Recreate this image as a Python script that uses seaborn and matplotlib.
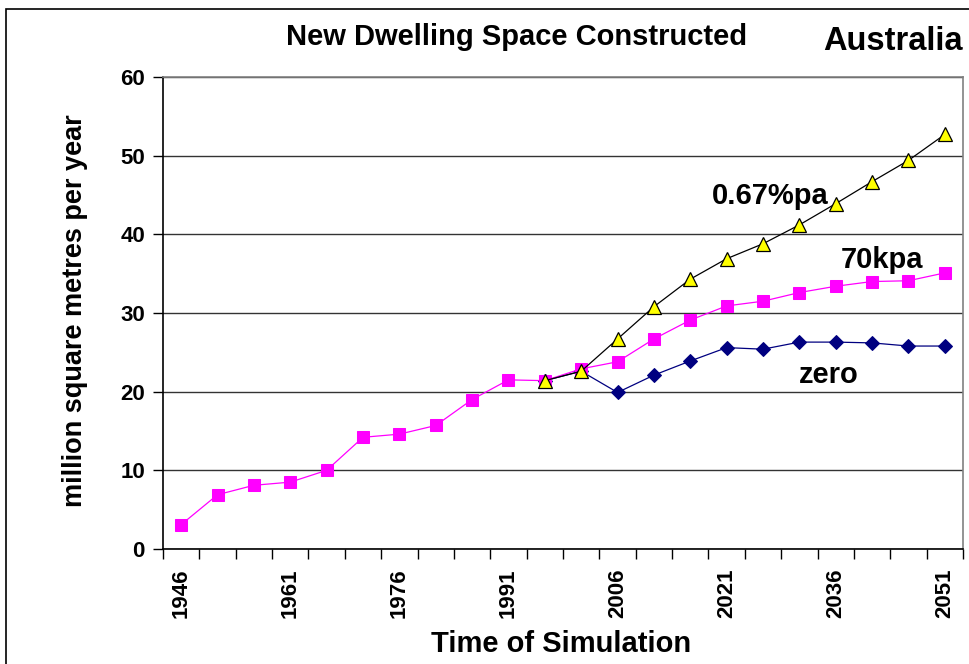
import matplotlib
matplotlib.use("Agg")
import matplotlib.pyplot as plt
from matplotlib.patches import Rectangle
import seaborn as sns
import pandas as pd

# Simulation years (5-year steps)
years = list(range(1946, 2052, 5))

# Historical + 70,000 per annum migration scenario
kpa70 = [3.1, 6.9, 8.1, 8.5, 10.0, 14.2, 14.6, 15.7, 19.0, 21.5, 21.4,
         22.9, 23.8, 26.7, 29.1, 30.9, 31.5, 32.6, 33.4, 34.0, 34.1, 35.1]

# 0.67% per annum growth scenario (from 1996)
pa067_years = years[10:]
pa067 = [21.4, 22.6, 26.7, 30.8, 34.3, 36.9, 38.8, 41.2, 43.9, 46.7, 49.4, 52.7]

# Zero net migration scenario (from 1996)
zero_years = years[10:]
zero = [21.4, 22.6, 19.9, 22.1, 23.9, 25.6, 25.4, 26.3, 26.3, 26.2, 25.8, 25.8]

tick_years = [1946, 1961, 1976, 1991, 2006, 2021, 2036, 2051]
y_ticks = [0, 10, 20, 30, 40, 50, 60]

df_70 = pd.DataFrame({"year": years, "value": kpa70})
df_067 = pd.DataFrame({"year": pa067_years, "value": pa067})
df_zero = pd.DataFrame({"year": zero_years, "value": zero})

sns.set_style("white")
plt.rcParams["font.family"] = ["Liberation Sans", "DejaVu Sans"]
plt.rcParams["font.weight"] = "bold"
for key in ["text.color", "axes.labelcolor", "xtick.color", "ytick.color"]:
    plt.rcParams[key] = "black"

W, H = 970, 664
fig = plt.figure(figsize=(W / 100, H / 100), dpi=100)
ax = fig.add_axes([163 / W, 1 - 549 / H, 800 / W, 472 / H])

# Outer chart frame
fig.patches.append(Rectangle((6 / W, -0.1), 1.2, 1 - 9 / H + 0.1,
                             transform=fig.transFigure, fill=False,
                             edgecolor="black", linewidth=1.2, zorder=0))

sns.lineplot(data=df_zero, x="year", y="value", ax=ax, color="#000080",
             linewidth=0.9, marker="D", markersize=7.5,
             markerfacecolor="#000080", markeredgecolor="#000080", zorder=3)
sns.lineplot(data=df_70, x="year", y="value", ax=ax, color="#FF00FF",
             linewidth=0.9, marker="s", markersize=8.5,
             markerfacecolor="#FF00FF", markeredgecolor="#FF00FF", zorder=4)
sns.lineplot(data=df_067, x="year", y="value", ax=ax, color="black",
             linewidth=0.9, marker="^", markersize=10,
             markerfacecolor="#FFFF00", markeredgecolor="black",
             markeredgewidth=0.9, zorder=5)

ax.set_xlim(1943.5, 2053.5)
ax.set_ylim(0, 60)

# Category boundary ticks, labels centred on categories
bounds = [1943.5 + 5 * k for k in range(len(years) + 1)]
ax.set_xticks(bounds)
ax.set_xticklabels([])
ax.set_xticks(tick_years, minor=True)
ax.set_xticklabels([str(t) for t in tick_years], minor=True, rotation=90,
                   fontsize=16, fontweight="bold")
ax.tick_params(axis="x", which="major", direction="out", length=7,
               width=1, color="black", bottom=True)
ax.tick_params(axis="x", which="minor", length=0, pad=14)

ax.set_yticks(y_ticks)
ax.set_yticklabels([str(v) for v in y_ticks], fontsize=16, fontweight="bold")
ax.tick_params(axis="y", direction="out", length=7, width=1,
               color="black", left=True, pad=6)

ax.grid(axis="y", color="#333333", linewidth=1)
ax.grid(axis="x", visible=False)
for side in ["left", "bottom"]:
    ax.spines[side].set_color("black")
    ax.spines[side].set_linewidth(1.2)
for side in ["top", "right"]:
    ax.spines[side].set_visible(True)
    ax.spines[side].set_color("#808080")
    ax.spines[side].set_linewidth(1.2)

ax.set_xlabel("Time of Simulation", fontsize=21, fontweight="bold",
              va="baseline")
ax.xaxis.set_label_coords(0.4975, (549 - 652) / 472)
ax.set_ylabel("million square metres per year", fontsize=19.5,
              fontweight="bold")
ax.yaxis.set_label_coords((88 - 163) / 800, 0.504)

ax.text(2027.0, 43.85, "0.67%pa", fontsize=21, fontweight="bold",
        ha="center", va="baseline")
ax.text(2042.3, 35.7, "70kpa", fontsize=21, fontweight="bold",
        ha="center", va="baseline")
ax.text(2035.1, 21.1, "zero", fontsize=21, fontweight="bold",
        ha="center", va="baseline")

fig.text(517 / W, 1 - 45 / H, "New Dwelling Space Constructed",
         fontsize=21, fontweight="bold", ha="center", va="baseline")
fig.text(893 / W, 1 - 50 / H, "Australia", fontsize=23.5,
         fontweight="bold", ha="center", va="baseline")

fig.savefig("out.png", dpi=100)
